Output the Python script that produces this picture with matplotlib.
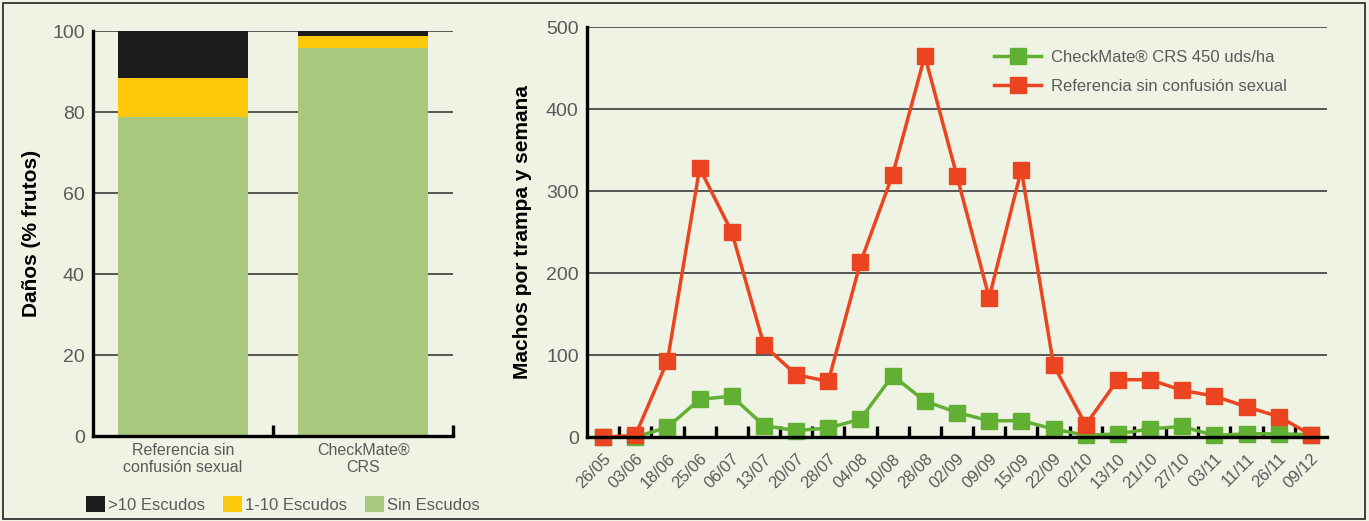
import numpy as np
import matplotlib.pyplot as plt
from matplotlib.patches import Rectangle

plt.rcParams['font.family'] = ['Liberation Sans', 'DejaVu Sans']

# left panel: damage (% fruits)
bar_cats = ["Referencia sin\nconfusión sexual", "CheckMate®\nCRS"]
sin_escudos = [78.8, 95.8]
escudos_1_10 = [9.6, 3.0]
escudos_mas10 = [11.6, 1.2]

# right panel: males per trap and week
dates = ["26/05", "03/06", "18/06", "25/06", "06/07", "13/07", "20/07", "28/07",
         "04/08", "10/08", "28/08", "02/09", "09/09", "15/09", "22/09", "02/10",
         "13/10", "21/10", "27/10", "03/11", "11/11", "26/11", "09/12"]
checkmate = [0, 0, 12, 46, 50, 14, 8, 11, 22, 75, 44, 30, 20, 20, 10, 2,
             4, 10, 13, 2, 4, 4, 3]
referencia = [0, 2, 93, 328, 250, 112, 76, 68, 213, 320, 465, 318, 170, 326,
              88, 15, 70, 70, 57, 50, 37, 25, 3]

BG = "#eef3e4"
GRID = "#4a4a4a"
TXT = "#5a5a5a"
C_GREEN_BAR = "#a9c97e"
C_YELLOW = "#fdc90a"
C_BLACK = "#1c1c1c"
C_RED = "#ea4520"
C_GREEN = "#62b033"

fig = plt.figure(figsize=(13.69, 5.21), dpi=100, facecolor=BG)
fig.patches.append(Rectangle((0.002, 0.004), 0.995, 0.99, transform=fig.transFigure,
                             fill=False, edgecolor="#222222", lw=1.2))


def style_axes(ax):
    ax.set_facecolor(BG)
    for s in ["top", "right"]:
        ax.spines[s].set_visible(False)
    for s in ["left", "bottom"]:
        ax.spines[s].set_linewidth(2.4)
        ax.spines[s].set_color("black")
        ax.spines[s].set_zorder(5)
    ax.yaxis.grid(True, color=GRID, lw=1.3)
    ax.set_axisbelow(True)
    ax.tick_params(axis="y", length=0, pad=6, labelsize=14, labelcolor=TXT)
    ax.tick_params(axis="x", which="major", length=0, labelcolor=TXT)
    ax.tick_params(axis="x", which="minor", direction="in", length=8, width=2.4,
                   color="black")


# ---- bars
ax1 = fig.add_axes([0.068, 0.163, 0.263, 0.777])
style_axes(ax1)
x = np.arange(len(bar_cats))
w = 0.72
ax1.bar(x, sin_escudos, w, color=C_GREEN_BAR, label="Sin Escudos")
ax1.bar(x, escudos_1_10, w, bottom=sin_escudos, color=C_YELLOW, label="1-10 Escudos")
ax1.bar(x, escudos_mas10, w, bottom=np.add(sin_escudos, escudos_1_10),
        color=C_BLACK, label=">10 Escudos")
ax1.set_xlim(-0.5, 1.5)
ax1.set_ylim(0, 100)
ax1.set_yticks([0, 20, 40, 60, 80, 100])
ax1.set_xticks(x)
ax1.set_xticklabels(bar_cats, fontsize=11.5)
ax1.set_xticks([0.5, 1.5], minor=True)
ax1.tick_params(axis="x", which="major", pad=5)
ax1.set_ylabel("Daños (% frutos)", fontsize=15, fontweight="bold", labelpad=8)

h, l = ax1.get_legend_handles_labels()
fig.legend(h[::-1], l[::-1], loc="center left", bbox_to_anchor=(0.052, 0.032), ncol=3,
           frameon=False, fontsize=12, handlelength=1.1, handleheight=1.1,
           handletextpad=0.2, columnspacing=1.1, labelcolor=TXT)

# ---- lines
ax2 = fig.add_axes([0.4288, 0.161, 0.5405, 0.787])
style_axes(ax2)
xi = np.arange(len(dates))
ax2.plot(xi, checkmate, color=C_GREEN, lw=2.5, marker="s", ms=11, clip_on=False,
         label="CheckMate® CRS 450 uds/ha", zorder=3)
ax2.plot(xi, referencia, color=C_RED, lw=2.5, marker="s", ms=11, clip_on=False,
         label="Referencia sin confusión sexual", zorder=4)
ax2.set_xlim(-0.5, len(dates) - 0.5)
ax2.set_ylim(0, 500)
ax2.set_yticks([0, 100, 200, 300, 400, 500])
ax2.set_xticks(xi)
ax2.set_xticklabels(dates, rotation=45, ha="right", rotation_mode="anchor", fontsize=12)
ax2.set_xticks(xi[:-1] + 0.5, minor=True)
ax2.tick_params(axis="x", which="major", pad=10)
ax2.set_ylabel("Machos por trampa y semana", fontsize=15, fontweight="bold", labelpad=10)
ax2.legend(loc="upper left", bbox_to_anchor=(0.53, 0.98), frameon=False, fontsize=12,
           handlelength=2.8, handletextpad=0.6, labelcolor=TXT, labelspacing=0.8)

fig.savefig("out.png", dpi=100, facecolor=BG)
